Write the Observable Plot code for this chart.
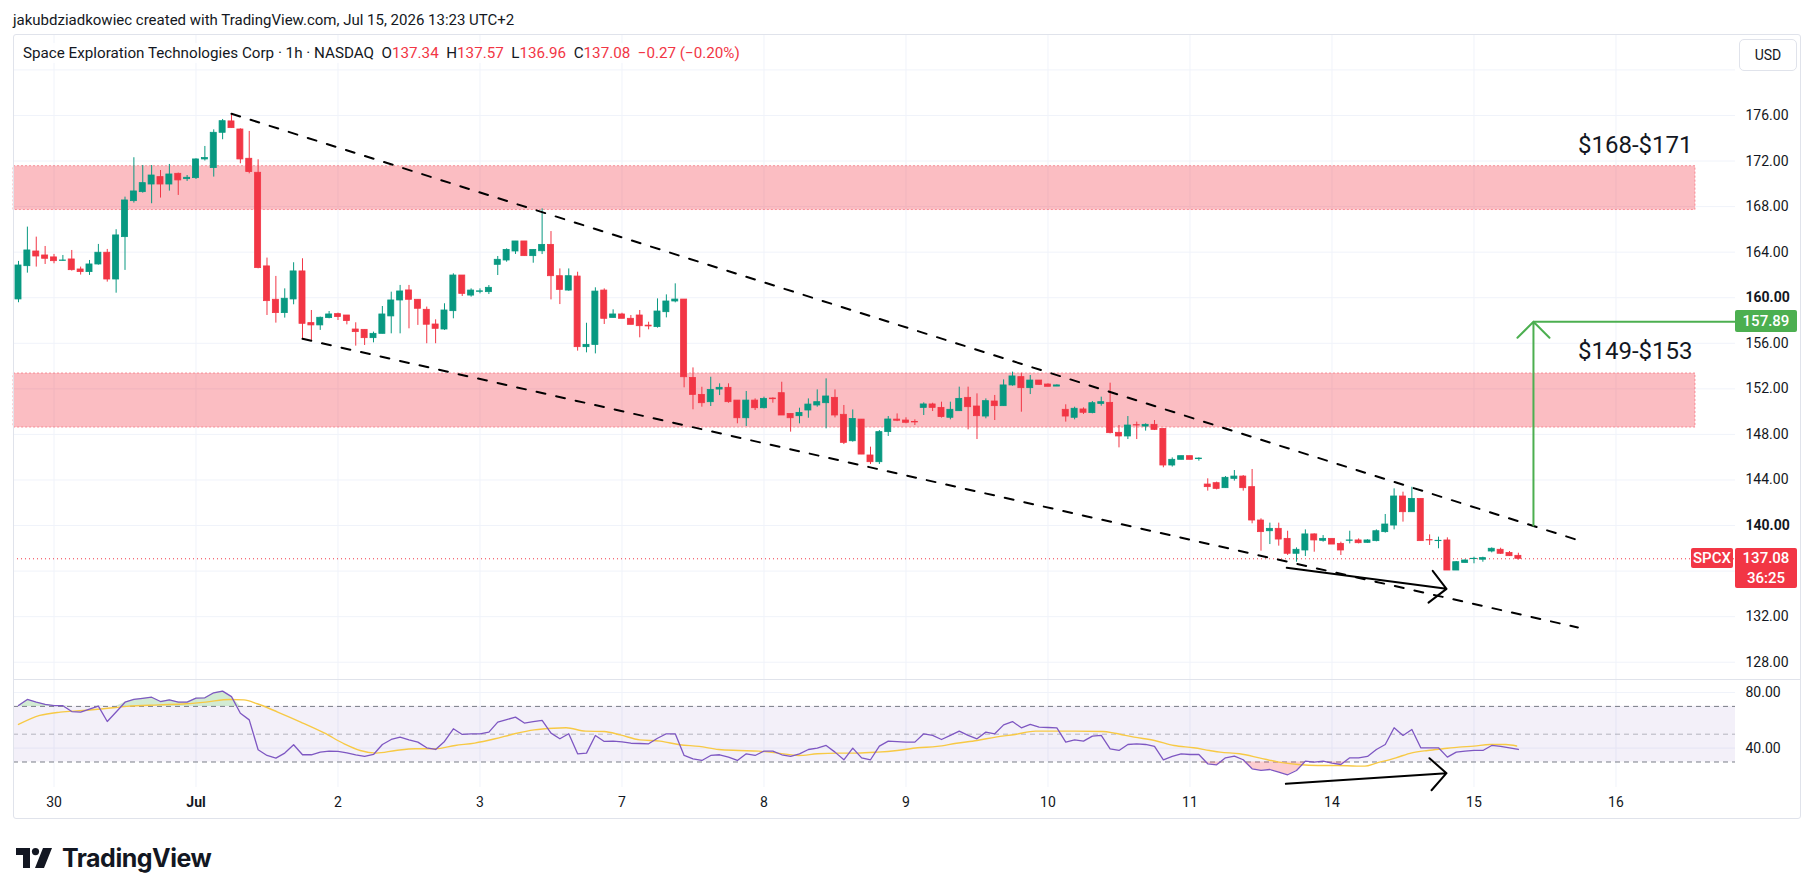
<!DOCTYPE html>
<html><head><meta charset="utf-8">
<script src="https://cdn.jsdelivr.net/npm/d3@7"></script>
<script src="https://cdn.jsdelivr.net/npm/@observablehq/plot@0.6"></script>
<style>
body{margin:0;background:#fff;width:1814px;height:895px;overflow:hidden;font-family:Roboto,"Open Sans",sans-serif;color:#131722;}
#root{position:relative;width:1814px;height:895px;}
.abs{position:absolute;}
.tag{position:absolute;color:#fff;font-size:15px;font-weight:500;text-align:center;border-radius:2px;font-family:Roboto,sans-serif;}
</style></head><body><div id="root"></div>
<script>
// ---------- DATA ----------
const open = [159.85,162.77,164.06,163.71,163.54,163.24,163.36,162.48,162.25,162.92,
163.95,161.6,165.32,168.48,169.27,169.94,170.59,169.94,170.88,170.41,
170.5,172.14,171.38,174.48,175.48,174.77,172.2,170.97,162.75,159.82,
158.65,159.85,162.31,157.77,157.57,158.21,158.56,158.44,157.21,157.18,
156.45,156.83,158.36,159.76,160.64,159.82,158.94,157.65,157.21,158.82,
161.95,160.19,160.52,160.49,162.89,163.27,164.06,164.94,163.65,164.08,
164.64,161.89,160.63,161.86,155.66,155.86,160.63,158.23,158.53,158.15,
158.44,157.55,157.42,158.73,159.67,159.84,152.96,151.47,150.83,151.94,
152.09,150.97,149.42,150.97,150.3,151.15,151.62,149.8,149.6,150.1,
150.54,150.74,151.21,149.72,147.4,149.3,146.15,145.56,148.2,149.3,
149.22,149.1,150.33,150.63,150.33,149.46,150.04,151.21,150.45,149.57,
150.89,150.48,152.3,153.03,152.06,152.73,152.38,152.2,150.16,149.46,
150.19,149.87,150.68,150.77,148.14,147.82,148.81,148.69,148.84,148.49,
145.27,145.77,146.09,145.83,143.6,143.72,143.28,144.1,144.3,143.37,
140.44,139.5,139.71,138.83,137.52,137.81,139.22,138.66,138.83,138.39,
138.66,138.69,138.48,138.63,139.42,140.0,142.55,141.17,142.34,138.72,
138.63,138.69,136.05,136.72,137.05,137.0,137.72,137.87,137.58,137.34];
const high = [163.19,166.2,165.32,164.5,163.8,163.71,164.15,162.69,163.27,164.68,
164.24,165.97,168.83,172.29,171.61,171.61,171.17,171.7,170.94,170.73,
172.2,173.28,174.74,175.65,176.15,174.83,174.6,172.11,163.48,161.87,
160.78,163.07,163.42,158.88,158.3,158.79,158.65,158.44,157.8,157.18,
156.98,159.23,160.49,161.08,161.08,159.82,159.18,158.06,159.47,162.1,
161.95,160.78,160.78,161.07,163.62,164.29,164.94,164.94,164.2,167.8,
165.81,162.53,162.53,162.24,157.76,160.87,160.78,158.94,158.64,158.44,
158.88,157.85,159.9,160.25,161.22,159.84,153.84,152.14,153.02,152.44,
152.44,150.97,151.77,151.12,151.27,151.21,152.58,149.8,150.3,151.12,
151.91,152.88,151.91,150.54,150.15,149.3,146.88,148.34,149.57,149.8,
149.46,149.28,150.77,150.74,150.83,150.83,152.15,152.15,151.56,151.12,
151.42,152.79,153.47,153.38,153.17,152.73,152.44,152.35,150.6,150.39,
150.33,150.89,151.27,152.5,148.78,149.57,149.08,148.93,149.22,148.49,
145.94,146.09,146.09,145.94,144.1,143.81,144.3,144.83,144.39,144.92,
140.59,140.21,140.21,139.5,138.04,139.62,139.27,139.12,138.83,138.54,
139.5,138.83,138.75,139.62,140.97,143.22,142.93,143.36,142.34,139.18,
138.98,138.92,136.84,137.0,137.22,137.22,138.04,138.01,137.72,137.57];
const low = [159.56,162.16,162.69,162.92,162.98,163.21,162.34,161.99,161.96,162.86,
161.37,160.4,162.4,168.31,169.18,168.25,168.75,169.36,168.98,170.21,
170.38,172.0,170.59,173.87,174.89,171.76,170.88,162.54,158.44,157.77,
158.21,159.38,156.31,156.25,157.13,158.15,158.0,157.62,155.75,155.81,
156.04,156.83,156.83,156.83,157.27,157.57,155.96,155.96,157.13,158.15,
160.11,160.05,160.34,160.28,161.95,163.12,163.8,163.65,163.03,163.79,
159.81,159.4,160.57,155.31,155.16,155.07,157.65,158.23,158.15,157.62,
156.48,157.18,157.33,158.23,159.55,152.09,150.16,150.39,150.45,151.41,
150.74,148.93,148.69,150.1,150.24,150.74,149.66,148.2,148.93,149.42,
150.39,148.49,149.45,147.11,147.32,146.23,145.36,145.36,147.82,149.12,
148.93,148.78,149.66,150.01,149.43,149.28,150.04,148.4,147.55,149.37,
149.22,150.48,152.23,149.95,151.5,152.3,152.18,152.2,149.08,149.28,
149.75,149.81,150.48,148.05,146.82,147.55,147.55,148.29,148.34,145.07,
145.13,145.77,145.77,145.65,143.02,143.13,143.28,143.9,143.02,140.15,
137.75,138.33,138.19,137.37,136.78,137.28,137.66,138.54,138.33,137.37,
138.39,138.39,138.45,138.57,139.33,139.62,140.3,141.17,138.63,138.25,
137.96,136.05,136.05,136.7,136.64,136.78,137.6,137.46,137.28,136.96];
const close = [162.83,164.15,163.62,163.42,163.21,163.27,162.42,162.25,162.92,163.95,
161.6,165.47,168.54,169.33,170.06,170.73,169.94,170.82,170.3,170.53,
172.14,172.26,174.48,175.5,174.89,172.14,171.03,162.6,159.7,158.65,
159.91,162.31,157.71,157.57,158.24,158.53,158.3,157.95,156.98,156.45,
156.83,158.53,159.76,160.55,159.82,159.03,157.63,157.27,158.88,161.95,
160.34,160.63,160.56,160.87,163.33,164.2,164.94,163.65,164.2,164.64,
161.89,160.69,161.89,155.66,155.86,160.54,158.15,158.53,158.15,157.62,
157.5,157.48,158.79,159.67,159.84,153.02,151.47,150.74,151.91,152.09,
150.83,149.42,150.97,150.3,151.12,151.09,149.66,149.42,149.89,150.62,
150.83,151.33,149.66,147.26,149.36,146.23,145.56,148.2,149.31,149.2,
149.02,149.05,150.63,150.33,149.52,150.16,151.12,150.39,149.6,150.92,
150.48,152.3,153.09,152.06,152.73,152.35,152.18,152.3,149.57,150.25,
149.9,150.74,150.83,148.11,147.82,148.78,148.78,148.84,148.4,145.27,
145.77,146.09,145.77,145.88,143.37,143.22,144.19,144.3,143.28,140.44,
139.42,139.71,138.77,137.52,137.87,139.22,138.69,138.83,138.33,137.81,
138.69,138.45,138.69,139.5,140.09,142.55,141.17,142.34,138.63,138.69,
138.66,136.05,136.78,136.93,137.08,137.14,137.96,137.52,137.31,137.08];
const rsi = [70.6,75,73,71.5,70.6,70.5,66.3,65.9,68,70.2,
59.1,66,73,75,75.8,76.6,73.5,74.7,73.1,73.1,
75.9,76.2,79.8,81,77,65.1,60.3,38.8,34.7,32.8,
36.4,42.4,35.2,35.2,37.1,37.8,37.6,36.6,35.2,34,
35.4,42.6,46.2,47.9,46,44.3,40.2,39,44.8,53.9,
49.8,50.3,50.3,51.5,58.7,60.5,62.3,58,59,59.9,
50.8,46.7,50.3,35.9,36.4,49.1,44.8,45,44.5,43.5,
43.3,43.1,47.1,50.3,50.3,34.7,32.3,31.1,34.7,35.2,
33.5,31.1,35.9,34.7,37.8,37.8,35.2,34,35.9,39,
40,41.9,37.1,31.6,40,33,31.6,41.4,45,44.6,
44.3,44.3,50.3,49.1,46.2,49.1,52.2,49.1,46.7,51.5,
50.3,56.7,59.1,54.6,57,55.1,54.8,54.6,44.3,45.9,
45,48.6,49.1,39.5,38.3,42.6,43.1,42.6,41.2,31.6,
34,35.9,35.4,35.4,28.7,28,33,34.2,31.6,25.1,
23.9,24.6,22.7,20.8,23.9,30.6,29.9,30.6,29.2,28.2,
33,33,34,39,42.6,54.6,49.1,53.4,40.2,40.2,
40.2,33.5,37.1,37.8,38.3,38.3,41.9,41.2,40.2,39];
// RSI-based moving average at these bar positions
const maIdx = [0,2.4,4.7,7.3,9.6,12.2,15.8,18.9,21.1,23.8,25.4,26.9,29.2,31.8,34.5,36.7,38.5,40.3,42.5,44.7,47,49.2,51.4,53.7,55.9,58.1,60.3,61.7,63.9,66,67.8,70,72.3,74.5,76.7,78.9,81.2,83.4,85.6,87.9,90,92.3,94.5,96.8,99,101.3,103.5,105.7,108,110.1,112.3,114.6,116.8,119,122.2,123.5,125.7,128,130.2,132.4,134.2,135.4,137.6,139.8,142,144.2,146.4,148.6,150.8,151.7,153,155.2,157,158.8,160.5,162.3,164,165.8,167.6,168.8];
const maVal = [57,63.5,65.9,67,68.3,70,71.1,71.9,73.1,75,74.7,71.9,65.9,58.7,50.7,43.1,38.3,36.4,38.3,39.5,39.5,41.9,43.6,46.7,50.3,53.1,54.3,54.6,52.2,51.9,49.5,45.9,45,42.4,41.2,39,38.3,37.8,36.4,34.7,35.9,36.4,36.4,37.1,38.3,40.2,41.2,43.5,45.5,47.9,49.8,52.2,52.2,52.2,51.9,50.7,47.9,45.5,41.9,40.2,38.3,37.1,35.9,33,29.9,28.2,27.5,27.5,27,27,29.2,33,36.6,38.3,39.5,40.7,41.4,42.6,42.6,41.5];
// time axis (bar index of each session start)
const dayIdx = [4,20,36,52,68,84,100,116,132,148,164,180];
const dayLabels = ["30","Jul","2","3","7","8","9","10","11","14","15","16"];
const priceTicks = [128,132,144,148,152,156,164,168,172,176];
const boldPriceTicks = [140,160];
const priceGrid = [128,132,136,140,144,148,152,156,160,164,168,172,176,180];
const rsiTicks = [40,80];
const rsiLevels = [70,50,30];
// resistance zones
const zoneLow = [167.7,148.6];
const zoneHigh = [171.55,153.35];
const zoneText = ["$168-$171","$149-$153"];
const zoneTextPrice = [173.4,155.3];
const zoneEndIdx = 188.96;
// channel trendlines [barIndex, price]
const upperLine = [[24,176.15],[176.2,138.6]];
const lowerLine = [[32,156.39],[175.7,131.05]];
// drawn arrows
const priceArrow = {x1:142.9,y1:136.29,x2:160.9,y2:134.44};
const rsiArrow = {x1:142.8,y1:14.3,x2:160.9,y2:21.95};
const targetArrow = {x:170.7,from:140,to:157.89};
const lastPrice = 137.08;
const countdown = "36:25";

// ---------- STYLE / LAYOUT ----------
const GREEN="#089981", RED="#f23645", INK="#131722", GRID="#f0f3fa";
const W=1814, xDomain=[-0.5634,193.465];
const bars = open.map((o,i)=>({i,o,h:high[i],l:low[i],c:close[i]}));
const ups = bars.filter(d=>d.c>=d.o), downs = bars.filter(d=>d.c<d.o);
const zones = zoneLow.map((lo,k)=>({lo,hi:zoneHigh[k],label:zoneText[k],ty:zoneTextPrice[k]}));
const rsiData = rsi.map((v,i)=>({i,v}));
const maData = maIdx.map((x,k)=>({x,v:maVal[k]}));
const half=0.34;
const font={fontFamily:"Roboto, sans-serif"};

const candleMarks = (arr,col)=>[
  Plot.ruleX(arr,{x:"i",y1:"l",y2:"h",stroke:col,strokeWidth:1}),
  Plot.rect(arr,{x1:d=>d.i-half,x2:d=>d.i+half,y1:"o",y2:"c",fill:col,stroke:col,strokeWidth:0.8})
];

const main = Plot.plot({
  width:W, height:680, marginLeft:13, marginRight:79, marginTop:34, marginBottom:0,
  x:{domain:xDomain, axis:null},
  y:{domain:[126.395,183.11], axis:null},
  style:{fontFamily:"Roboto, sans-serif", fontSize:"14px", color:INK, background:"transparent"},
  marks:[
    Plot.gridY(priceGrid,{stroke:GRID,strokeOpacity:1}),
    Plot.gridX(dayIdx,{stroke:GRID,strokeOpacity:1}),
    Plot.rect(zones,{x1:()=>xDomain[0],x2:()=>zoneEndIdx,y1:"lo",y2:"hi",fill:RED,fillOpacity:0.33,stroke:RED,strokeOpacity:0.45,strokeDasharray:"2,2",strokeWidth:1}),
    Plot.text(zones,{x:()=>zoneEndIdx,y:"ty",text:"label",textAnchor:"end",dx:-3,fontSize:24,fill:INK,...font}),
    Plot.ruleY([lastPrice],{stroke:RED,strokeDasharray:"1,3",strokeWidth:1}),
    ...candleMarks(ups,GREEN),
    ...candleMarks(downs,RED),
    Plot.line(upperLine,{stroke:"#000",strokeWidth:2,strokeDasharray:"9,11"}),
    Plot.line(lowerLine,{stroke:"#000",strokeWidth:2,strokeDasharray:"9,11"}),
    Plot.arrow([priceArrow],{x1:"x1",y1:"y1",x2:"x2",y2:"y2",stroke:"#000",strokeWidth:2,headLength:17,headAngle:90}),
    Plot.arrow([targetArrow],{x1:"x",y1:"from",x2:"x",y2:"to",stroke:"#4caf50",strokeWidth:2,headLength:17,headAngle:90}),
    Plot.ruleY([targetArrow],{y:"to",x1:"x",x2:()=>xDomain[1],stroke:"#4caf50",strokeWidth:2}),
    Plot.axisY(priceTicks,{anchor:"right",tickSize:0,tickPadding:10,tickFormat:d=>d.toFixed(2),fontSize:14,fill:INK,label:null}),
    Plot.axisY(boldPriceTicks,{anchor:"right",tickSize:0,tickPadding:10,tickFormat:d=>d.toFixed(2),fontSize:14,fontWeight:"bold",fill:INK,label:null})
  ]
});

const rsiPlot = Plot.plot({
  width:W, height:138, marginLeft:13, marginRight:79, marginTop:0, marginBottom:31,
  x:{domain:xDomain, axis:null},
  y:{domain:[11.65,88.63], axis:null},
  style:{fontFamily:"Roboto, sans-serif", fontSize:"14px", color:INK, background:"transparent"},
  marks:[
    Plot.gridX(dayIdx,{stroke:GRID,strokeOpacity:1}),
    Plot.gridY(rsiTicks,{stroke:GRID,strokeOpacity:1}),
    Plot.rect([rsiLevels],{x1:()=>xDomain[0],x2:()=>xDomain[1],y1:d=>d[2],y2:d=>d[0],fill:"#7e57c2",fillOpacity:0.09}),
    Plot.ruleY([rsiLevels[0],rsiLevels[2]],{stroke:"#787b86",strokeDasharray:"5,4",strokeWidth:1}),
    Plot.ruleY([rsiLevels[1]],{stroke:"#787b86",strokeOpacity:0.5,strokeDasharray:"5,4",strokeWidth:1}),
    Plot.areaY(rsiData,{x:"i",y1:()=>rsiLevels[0],y2:d=>Math.max(d.v,rsiLevels[0]),fill:"#4caf50",fillOpacity:0.25}),
    Plot.areaY(rsiData,{x:"i",y1:()=>rsiLevels[2],y2:d=>Math.min(d.v,rsiLevels[2]),fill:RED,fillOpacity:0.25}),
    Plot.line(maData,{x:"x",y:"v",stroke:"#f7c945",strokeWidth:1.4,curve:"monotone-x"}),
    Plot.line(rsiData,{x:"i",y:"v",stroke:"#7e57c2",strokeWidth:1.3}),
    Plot.arrow([rsiArrow],{x1:"x1",y1:"y1",x2:"x2",y2:"y2",stroke:"#000",strokeWidth:2,headLength:17,headAngle:90}),
    Plot.axisY(rsiTicks,{anchor:"right",tickSize:0,tickPadding:10,tickFormat:d=>d.toFixed(2),fontSize:14,fill:INK,label:null}),
    Plot.axisX(dayIdx.filter((d,k)=>dayLabels[k]!=="Jul"),{anchor:"bottom",tickSize:0,tickPadding:10,tickFormat:d=>dayLabels[dayIdx.indexOf(d)],fontSize:14,fill:INK,label:null}),
    Plot.axisX(dayIdx.filter((d,k)=>dayLabels[k]==="Jul"),{anchor:"bottom",tickSize:0,tickPadding:10,tickFormat:d=>dayLabels[dayIdx.indexOf(d)],fontSize:14,fontWeight:"bold",fill:INK,label:null})
  ]
});

const root = document.getElementById("root");
function add(html){root.insertAdjacentHTML("beforeend",html);}
main.style.position="absolute"; main.style.left="0"; main.style.top="0";
rsiPlot.style.position="absolute"; rsiPlot.style.left="0"; rsiPlot.style.top="680px";
root.appendChild(main); root.appendChild(rsiPlot);

// frame and pane separator
add(`<div class="abs" style="left:13px;top:34px;width:1788px;height:785px;border:1px solid #e0e3eb;box-sizing:border-box;border-radius:3px;pointer-events:none"></div>`);
add(`<div class="abs" style="left:13px;top:679px;width:1788px;height:1px;background:#e0e3eb"></div>`);
// header + legend
add(`<div class="abs" style="left:13px;top:10px;font-size:15px;line-height:20px;white-space:nowrap">jakubdziadkowiec created with TradingView.com, Jul 15, 2026 13:23 UTC+2</div>`);
const o=open[open.length-1],h=high[high.length-1],l=low[low.length-1],c=close[close.length-1];
add(`<div class="abs" style="left:23px;top:43px;font-size:15.2px;line-height:20px;white-space:nowrap;background:rgba(255,255,255,0.85)">Space Exploration Technologies Corp · 1h · NASDAQ&nbsp; O<span style="color:${RED}">${o.toFixed(2)}</span>&nbsp; H<span style="color:${RED}">${h.toFixed(2)}</span>&nbsp; L<span style="color:${RED}">${l.toFixed(2)}</span>&nbsp; C<span style="color:${RED}">${c.toFixed(2)}</span>&nbsp; <span style="color:${RED}">−0.27 (−0.20%)</span></div>`);
// USD box
add(`<div class="abs" style="left:1739px;top:39px;width:58px;height:32px;border:1px solid #e0e3eb;border-radius:5px;box-sizing:border-box;font-size:14px;line-height:30px;text-align:center;background:#fff">USD</div>`);
// axis tags positioned through the plot's own y scale
const ys = main.scale("y");
const gy = ys.apply(targetArrow.to), py = ys.apply(lastPrice);
add(`<div class="tag" style="left:1735px;top:${gy-11}px;width:62px;height:22px;line-height:22px;background:#4caf50">${targetArrow.to.toFixed(2)}</div>`);
add(`<div class="tag" style="left:1691px;top:${py-10}px;width:42px;height:20px;line-height:20px;background:${RED}">SPCX</div>`);
add(`<div class="tag" style="left:1735px;top:${py-10}px;width:62px;height:40px;background:${RED};line-height:20px"><div>${lastPrice.toFixed(2)}</div><div>${countdown}</div></div>`);
// TradingView logo
add(`<div class="abs" style="left:16px;top:843px;height:30px;display:flex;align-items:center;gap:10px">
<svg width="36" height="20" viewBox="0 0 36 20"><path d="M0 0H14V20H7V7H0Z" fill="${INK}"/><circle cx="19.5" cy="3.6" r="3.6" fill="${INK}"/><path d="M27 0H36L28 20H19Z" fill="${INK}"/></svg>
<span style="font-family:Inter,Roboto,sans-serif;font-weight:700;font-size:25px;letter-spacing:-0.5px;color:${INK}">TradingView</span></div>`);
</script></body></html>
